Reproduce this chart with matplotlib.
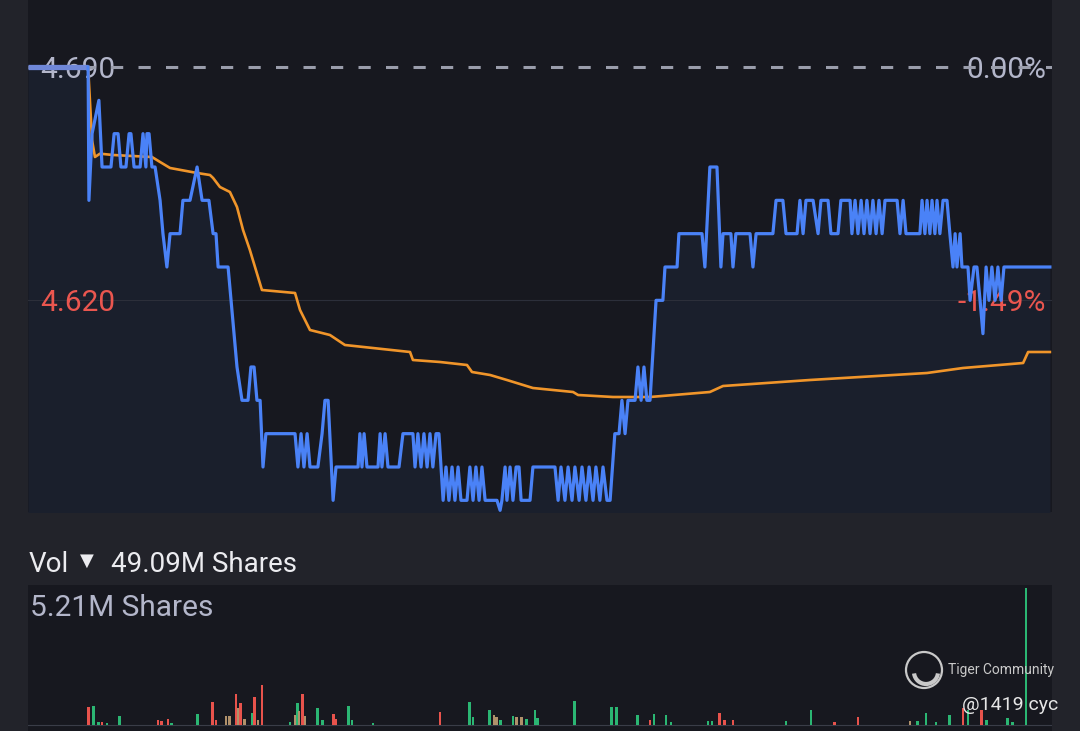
import numpy as np
import matplotlib.pyplot as plt
from matplotlib.patches import Ellipse, Arc
import matplotlib.transforms as mtransforms

plt.rcParams['font.family'] = ['Roboto', 'DejaVu Sans']

# intraday price (minute since open, price)
price_min = [0.0, 22.9, 23.2, 24.4, 27.0, 28.2, 31.6, 32.8, 34.3, 35.4, 37.3, 38.5, 39.2, 40.4,
             42.7, 43.8, 44.9, 45.3, 46.1, 47.2, 48.4, 50.3, 51.4, 52.9, 54.1, 57.9, 59.0, 61.7,
             64.4, 66.3, 68.9, 70.5, 71.6, 72.4, 76.2, 79.6, 81.5, 83.8, 84.9, 86.1, 87.2, 88.4,
             89.5, 90.6, 101.7, 102.8, 104.0, 105.1, 106.3, 107.4, 110.4, 112.0, 113.1, 114.3,
             116.2, 117.3, 125.7, 126.4, 127.2, 128.0, 129.1, 133.3, 134.1, 134.8, 136.0, 137.1,
             141.3, 142.8, 146.6, 147.4, 148.5, 149.7, 150.8, 152.0, 153.1, 154.2, 155.4, 156.5,
             158.1, 159.2, 160.3, 161.5, 162.6, 163.8, 164.9, 167.2, 168.3, 169.5, 170.6, 171.8,
             172.9, 174.1, 178.6, 179.8, 180.5, 181.7, 182.4, 183.6, 184.7, 185.9, 187.0, 187.8,
             191.2, 192.3, 200.7, 201.9, 203.0, 204.5, 205.7, 207.2, 208.3, 209.9, 211.0, 212.5,
             213.7, 215.2, 216.3, 217.8, 219.0, 220.5, 221.7, 223.5, 225.1, 226.2, 227.4, 228.5,
             231.2, 232.3, 233.5, 234.6, 235.7, 236.9, 239.2, 241.8, 242.6, 247.2, 247.9, 256.7,
             257.8, 259.7, 262.4, 263.9, 264.7, 267.7, 268.5, 269.6, 275.0, 276.1, 277.3, 283.7,
             284.9, 287.5, 288.7, 292.9, 294.0, 295.2, 296.3, 299.0, 300.9, 302.0, 304.7, 305.8,
             308.5, 309.6, 313.1, 313.8, 315.0, 316.1, 317.3, 318.4, 319.5, 320.7, 321.8, 323.0,
             324.1, 325.3, 326.4, 331.0, 332.1, 333.3, 334.4, 339.7, 340.5, 341.6, 342.4, 343.5,
             344.3, 345.4, 346.2, 347.3, 348.5, 350.0, 351.1, 352.3, 353.1, 353.8, 355.0, 355.7,
             358.0, 358.8, 360.3, 361.4, 362.6, 363.7, 364.9, 366.0, 367.1, 368.3, 369.4, 370.6,
             371.7, 389.2]
price = [4.69, 4.69, 4.65, 4.67, 4.68, 4.66, 4.66, 4.67, 4.67, 4.66, 4.66, 4.67, 4.67, 4.66,
         4.66, 4.67, 4.66, 4.67, 4.67, 4.66, 4.66, 4.65, 4.64, 4.63, 4.64, 4.64, 4.65, 4.65,
         4.66, 4.65, 4.65, 4.64, 4.64, 4.63, 4.63, 4.60, 4.59, 4.59, 4.60, 4.60, 4.59, 4.59,
         4.57, 4.58, 4.58, 4.57, 4.58, 4.57, 4.58, 4.57, 4.57, 4.58, 4.59, 4.59,
         4.56, 4.57, 4.57, 4.58, 4.57, 4.58, 4.57, 4.57, 4.58, 4.57, 4.58, 4.57,
         4.57, 4.58, 4.58, 4.57, 4.58, 4.57, 4.58, 4.57, 4.58, 4.57, 4.58, 4.58,
         4.56, 4.57, 4.56, 4.57, 4.56, 4.57, 4.56, 4.56, 4.57, 4.56, 4.57, 4.56,
         4.57, 4.56, 4.56, 4.557, 4.56, 4.57, 4.56, 4.57, 4.56, 4.57, 4.57, 4.56,
         4.56, 4.57, 4.57, 4.56, 4.57, 4.56, 4.57, 4.56, 4.57, 4.56, 4.57, 4.56,
         4.57, 4.56, 4.57, 4.56, 4.57, 4.56, 4.56, 4.58, 4.58, 4.59, 4.58, 4.59,
         4.59, 4.60, 4.59, 4.60, 4.59, 4.59, 4.62, 4.62, 4.63, 4.63, 4.64, 4.64,
         4.63, 4.66, 4.66, 4.63, 4.64, 4.64, 4.63, 4.64, 4.64, 4.63, 4.64, 4.64,
         4.65, 4.65, 4.64, 4.64, 4.65, 4.64, 4.65, 4.65, 4.64, 4.65, 4.65, 4.64,
         4.64, 4.65, 4.65, 4.64, 4.65, 4.64, 4.65, 4.64, 4.65, 4.64, 4.65, 4.64,
         4.65, 4.64, 4.65, 4.65, 4.64, 4.65, 4.64, 4.64, 4.65, 4.64, 4.65, 4.64,
         4.65, 4.64, 4.65, 4.64, 4.65, 4.65, 4.64, 4.63, 4.64, 4.63, 4.64, 4.63,
         4.63, 4.62, 4.63, 4.63, 4.62, 4.61, 4.63, 4.62, 4.63, 4.62, 4.63, 4.62,
         4.63, 4.63]

# average price line
avg_min = [22.9, 24.4, 25.5, 27.4, 32.4, 47.2, 50.3, 54.1, 64.4, 69.3, 70.5, 73.1, 76.9, 79.6,
           81.9, 84.5, 86.8, 89.1, 101.7, 103.6, 107.4, 115.0, 120.7, 145.5, 146.6, 156.9,
           167.2, 169.1, 176.0, 182.4, 192.3, 207.6, 209.5, 222.8, 236.9, 259.7, 264.7, 297.8,
           316.9, 342.4, 356.1, 379.0, 380.9, 389.2]
avg_price = [4.690, 4.668, 4.663, 4.664, 4.6636, 4.663, 4.6615, 4.6597, 4.6582, 4.6576, 4.6567,
             4.654, 4.6525, 4.648, 4.6411, 4.6351, 4.6291, 4.6231, 4.6222, 4.6171, 4.6111,
             4.6096, 4.6066, 4.6045, 4.6021, 4.6015, 4.6006, 4.5985, 4.5976, 4.5961, 4.5937,
             4.5925, 4.5916, 4.591, 4.591, 4.5925, 4.5943, 4.5961, 4.597, 4.5982, 4.5997,
             4.6012, 4.6045, 4.6045]

# volume bars (minute, millions of shares, colour class)
vol_min = [22.9, 24.8, 26.7, 28.2, 30.1, 35.0, 49.5, 51.0, 53.3, 54.8, 64.4, 70.1, 71.6, 75.4,
           76.6, 79.2, 80.0, 81.1, 82.3, 85.3, 86.1, 87.6, 89.1, 99.8, 101.7, 102.5, 103.2,
           104.4, 105.5, 110.4, 112.0, 116.2, 117.3, 121.9, 123.4, 131.4, 156.9, 168.3, 169.5,
           175.6, 177.5, 178.6, 179.8, 184.7, 186.2, 187.8, 189.7, 193.1, 194.2, 208.3, 222.4,
           224.3, 232.3, 236.9, 238.4, 243.0, 244.9, 259.0, 260.5, 263.5, 265.1, 268.5, 288.7,
           298.2, 307.0, 316.1, 335.9, 338.9, 342.0, 345.8, 351.1, 356.1, 358.0, 363.3, 364.9,
           373.2, 374.8, 380.1]
vol = [0.68, 0.72, 0.11, 0.11, 0.08, 0.34, 0.19, 0.15, 0.23, 0.08, 0.42, 0.87, 0.19, 0.34,
       0.34, 1.18, 0.65, 0.84, 0.23, 0.46, 1.06, 0.19, 1.52, 0.11, 0.38, 0.84, 0.53,
       1.18, 0.34, 0.65, 0.19, 0.42, 0.23, 0.72, 0.19, 0.08, 0.49, 0.87, 0.30,
       0.57, 0.38, 0.30, 0.19, 0.34, 0.30, 0.30, 0.23, 0.57, 0.27, 0.91, 0.68,
       0.68, 0.38, 0.19, 0.42, 0.38, 0.11, 0.15, 0.15, 0.46, 0.19, 0.19, 0.15,
       0.57, 0.11, 0.30, 0.15, 0.15, 0.46, 0.11, 0.38, 0.65, 0.57, 0.57, 0.19,
       0.27, 0.11, 5.21]
vol_side = ['r', 'g', 'g', 'r', 'g', 'g', 'r', 'r', 'r', 'g', 'g', 'r', 'r', 't',
            't', 'r', 't', 'r', 't', 'g', 'r', 't', 'r', 'g', 't', 'g', 't',
            'r', 't', 'g', 'g', 'r', 'r', 'g', 'g', 'g', 'r', 'g', 'g',
            'g', 't', 't', 'g', 'g', 't', 't', 'g', 'g', 'g', 'g', 'g',
            'g', 'g', 'r', 'g', 'g', 'g', 'g', 'g', 'r', 'r', 'r', 'g',
            'g', 'r', 'r', 't', 'g', 'g', 'g', 'g', 'r', 'g', 'r', 'g',
            'g', 'g', 'g']

prev_close = 4.69
mid_price = 4.62
total_vol = '49.09M'
max_vol = '5.21M'

BG = '#22232a'
PANEL = '#17181f'
GREY = '#b3b6ca'
RED = '#ea564f'
side_colors = {'r': '#e8534c', 'g': '#2bb673', 't': '#b0916b'}

fig = plt.figure(figsize=(10.8, 7.31), dpi=100, facecolor=BG)
ax = fig.add_axes([28 / 1080, 1 - 512 / 731, 1024 / 1080, 512 / 731])
axv = fig.add_axes([28 / 1080, 0, 1024 / 1080, 146 / 731])

for a in (ax, axv):
    a.set_facecolor(PANEL)
    a.set_xlim(0, 390)
    a.set_xticks([])
    a.set_yticks([])
    for s in a.spines.values():
        s.set_visible(False)

ax.set_ylim(4.5565, 4.7101)
ax.fill_between(price_min, price, 4.5, color='#1a1f2c', zorder=1, lw=0)
ax.axhline(prev_close, color='#9a9dab', lw=2.2, dashes=(4, 5), zorder=3)
ax.axhline(mid_price, color='#2c2f3a', lw=0.8, zorder=1.5)
ax.plot(price_min[:2], price[:2], color='#6f87d8', lw=3.8, zorder=4, solid_capstyle='butt')
ax.plot(price_min[1:], price[1:], color='#4a82f7', lw=2.3, zorder=4)
ax.plot(avg_min, avg_price, color='#f0952a', lw=1.9, zorder=3)

# labels sit a few pixels low of the level they mark, under the lines
tl = mtransforms.blended_transform_factory(ax.transAxes, ax.transData)
tl = tl + mtransforms.ScaledTranslation(0, -3 / 100, fig.dpi_scale_trans)
ax.text(12 / 1024, prev_close, '4.690', color=GREY, fontsize=21.5, va='center', ha='left',
        transform=tl, zorder=2)
ax.text(1018 / 1024, prev_close, '0.00%', color=GREY, fontsize=21.5, va='center', ha='right',
        transform=tl, zorder=2)
ax.text(12 / 1024, mid_price, '4.620', color=RED, fontsize=21.5, va='center', ha='left',
        transform=tl, zorder=2)
ax.text(1018 / 1024, mid_price, '-1.49%', color=RED, fontsize=21.5, va='center', ha='right',
        transform=tl, zorder=2)

# volume panel
axv.set_ylim(-0.228, 5.323)
axv.axhline(0, color='#3a3d48', lw=0.8, zorder=1)
axv.bar(vol_min, vol, width=1.1, color=[side_colors[s] for s in vol_side], zorder=2)
axv.text(2 / 1024, 0.94, max_vol + ' Shares', transform=axv.transAxes, color=GREY,
         fontsize=21.5, va='top', ha='left')

fig.text(29 / 1080, 1 - 564 / 731, 'Vol', color='#ececf0', fontsize=20, va='center', ha='left')
fig.text(80 / 1080, 1 - 561 / 731, '▼', color='#ececf0', fontsize=13, va='center', ha='left',
         family='DejaVu Sans')
fig.text(111 / 1080, 1 - 564 / 731, total_vol + ' Shares', color='#ececf0', fontsize=20,
         va='center', ha='left')

# watermark
cx, cy = 924 / 1080, 1 - 670 / 731
fig.patches.append(Ellipse((cx, cy), 36 / 1080, 36 / 731, transform=fig.transFigure,
                           fill=False, ec='#c9c9c9', lw=1.6))
fig.patches.append(Arc((cx + 2 / 1080, cy - 2 / 731), 24 / 1080, 24 / 731, theta1=190,
                       theta2=350, transform=fig.transFigure, ec='#c9c9c9', lw=3))
fig.text(948 / 1080, 1 - 670 / 731, 'Tiger Community', color='#c9c9c9', fontsize=10,
         va='center', ha='left')
fig.text(1058 / 1080, 1 - 705 / 731, '@1419 cyc', color='#e6e6e6', fontsize=14,
         va='center', ha='right')

fig.savefig('out.png', dpi=100, facecolor=BG)
